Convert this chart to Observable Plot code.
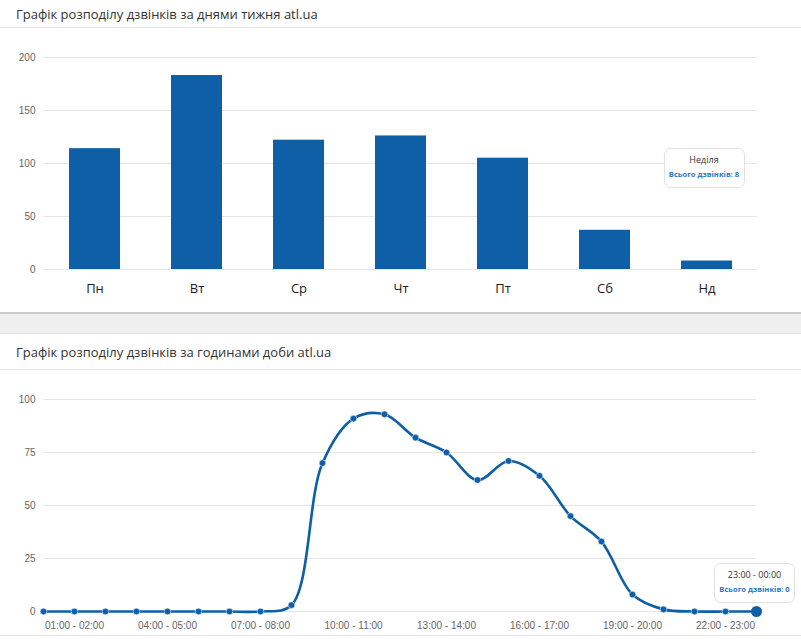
<!DOCTYPE html>
<html>
<head>
<meta charset="utf-8">
<script src="https://cdn.jsdelivr.net/npm/d3@7"></script>
<script src="https://cdn.jsdelivr.net/npm/@observablehq/plot@0.6"></script>
<style>
  body { margin:0; background:#fff; width:801px; font-family:"Open Sans", sans-serif; overflow:hidden; }
  .panel { position:relative; background:#fff; }
  .title { padding-left:16px; font-size:13px; color:#333; border-bottom:1px solid #e6e6e6; white-space:nowrap; }
  .tip { position:absolute; width:79px; height:38px; background:rgba(255,255,255,0.96); border:1px solid #e2e2e2; border-radius:7px; box-shadow:0 0 2px rgba(0,0,0,0.06); text-align:center; }
  .tip .h { position:absolute; left:0; right:0; top:4px; font-size:9px; color:#333; white-space:nowrap; }
  .tip .v { position:absolute; left:0; right:0; top:20px; font-size:7.6px; font-weight:bold; color:#2a78bf; white-space:nowrap; }
  svg { display:block; }
</style>
</head>
<body>
<div class="panel" id="p1" style="height:312px;">
  <div class="title" style="height:27px;line-height:29px;">Графік розподілу дзвінків за днями тижня atl.ua</div>
  <div id="c1"></div>
</div>
<div style="height:2px;background:#cdcdcd"></div>
<div style="height:19px;background:#efefef"></div>
<div style="height:1px;background:#e3e3e3"></div>
<div class="panel" id="p2" style="height:305px;">
  <div class="title" style="height:35px;line-height:36px;">Графік розподілу дзвінків за годинами доби atl.ua</div>
  <div id="c2" style="border-bottom:1px solid #e3e3e3;"></div>
</div>
<script>
// ---- data ----
const days = ["Пн", "Вт", "Ср", "Чт", "Пт", "Сб", "Нд"];
const dayNames = ["Понеділок", "Вівторок", "Середа", "Четвер", "П'ятниця", "Субота", "Неділя"];
const dayCalls = [114, 183, 122, 126, 105, 37, 8];
const dayTicks = [0, 50, 100, 150, 200];

const hours = ["00:00 - 01:00", "01:00 - 02:00", "02:00 - 03:00", "03:00 - 04:00", "04:00 - 05:00", "05:00 - 06:00",
  "06:00 - 07:00", "07:00 - 08:00", "08:00 - 09:00", "09:00 - 10:00", "10:00 - 11:00", "11:00 - 12:00",
  "12:00 - 13:00", "13:00 - 14:00", "14:00 - 15:00", "15:00 - 16:00", "16:00 - 17:00", "17:00 - 18:00",
  "18:00 - 19:00", "19:00 - 20:00", "20:00 - 21:00", "21:00 - 22:00", "22:00 - 23:00", "23:00 - 00:00"];
const hourCalls = [0, 0, 0, 0, 0, 0, 0, 0, 3, 70, 91, 93, 82, 75, 62, 71, 64, 45, 33, 8, 1, 0, 0, 0];
const hourTickLabels = ["01:00 - 02:00", "04:00 - 05:00", "07:00 - 08:00", "10:00 - 11:00", "13:00 - 14:00",
  "16:00 - 17:00", "19:00 - 20:00", "22:00 - 23:00"];
const hourTicks = [0, 25, 50, 75, 100];

const tipDayIndex = 6;
const tipHourIndex = 23;

const blue = "#0e5fa5";
const gridColor = "#e6e6e6";
const numFont = "'Liberation Sans', Arial, sans-serif";

const dayData = days.map((d, i) => ({day: d, calls: dayCalls[i]}));
const hourData = hours.map((h, i) => ({hour: h, calls: hourCalls[i]}));

// ---- chart 1 ----
const chart1 = Plot.plot({
  width: 801, height: 284,
  marginLeft: 43, marginRight: 44, marginTop: 29, marginBottom: 43,
  style: {background: "#fff", overflow: "visible"},
  x: {domain: days, paddingInner: 0.5, paddingOuter: 0.25, label: null},
  y: {domain: [0, 200], label: null},
  marks: [
    Plot.gridY(dayTicks, {stroke: gridColor, strokeOpacity: 1}),
    Plot.barY(dayData, {x: "day", y: "calls", fill: blue}),
    Plot.axisY(dayTicks, {tickSize: 0, tickPadding: 8, fontSize: 10, fill: "#666", fontFamily: numFont, label: null}),
    Plot.axisX({tickSize: 0, tickPadding: 14, fontSize: 13, fill: "#222", fontFamily: "'Open Sans', sans-serif", label: null})
  ]
});
document.getElementById("c1").appendChild(chart1);

// ---- chart 2 ----
const chart2 = Plot.plot({
  width: 801, height: 265,
  marginLeft: 43, marginRight: 45, marginTop: 29, marginBottom: 24,
  style: {background: "#fff", overflow: "visible"},
  x: {type: "point", domain: hours, padding: 0, label: null},
  y: {domain: [0, 100], label: null},
  marks: [
    Plot.gridY(hourTicks, {stroke: gridColor, strokeOpacity: 1}),
    Plot.line(hourData, {x: "hour", y: "calls", stroke: blue, strokeWidth: 2.6, curve: "catmull-rom"}),
    Plot.dot(hourData, {x: "hour", y: "calls", fill: blue, r: 3.3, stroke: "#fff", strokeWidth: 0.5}),
    Plot.dot([hourData[tipHourIndex]], {x: "hour", y: "calls", fill: blue, r: 5.5}),
    Plot.axisY(hourTicks, {tickSize: 0, tickPadding: 8, fontSize: 10, fill: "#666", fontFamily: numFont, label: null}),
    Plot.axisX(hourTickLabels, {tickSize: 0, tickPadding: 10, fontSize: 10, fill: "#666", fontFamily: numFont, label: null})
  ]
});
document.getElementById("c2").appendChild(chart2);

// ---- tooltips anchored through the scales ----
function addTip(panelId, svgTop, cx, cy, dx, dy, head, val) {
  const t = document.createElement("div");
  t.className = "tip";
  t.style.left = (cx + dx - 40.5) + "px";
  t.style.top = (svgTop + cy + dy) + "px";
  t.innerHTML = `<div class="h">${head}</div><div class="v">Всього дзвінків: ${val}</div>`;
  document.getElementById(panelId).appendChild(t);
}
{
  const xs = chart1.scale("x"), ys = chart1.scale("y");
  const cx = xs.apply(days[tipDayIndex]) + xs.bandwidth / 2;
  const cy = ys.apply(dayCalls[tipDayIndex]);
  addTip("p1", 28, cx, cy, -2.5, -112.5, dayNames[tipDayIndex], dayCalls[tipDayIndex]);
}
{
  const xs = chart2.scale("x"), ys = chart2.scale("y");
  const cx = xs.apply(hours[tipHourIndex]);
  const cy = ys.apply(hourCalls[tipHourIndex]);
  addTip("p2", 36, cx, cy, -1.5, -48, hours[tipHourIndex], hourCalls[tipHourIndex]);
}
</script>
</body>
</html>
